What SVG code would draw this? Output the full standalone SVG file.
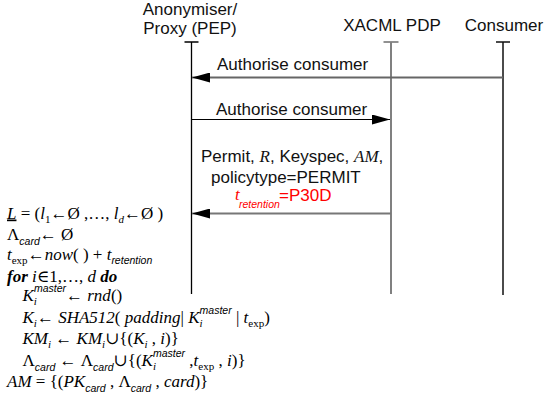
<svg xmlns="http://www.w3.org/2000/svg" width="546" height="396" viewBox="0 0 546 396">
  <style>
    .hdr { font-family: "Liberation Sans", Arial, sans-serif; font-size: 17px; fill: #111; }
    .lbl { font-family: "Liberation Sans", Arial, sans-serif; font-size: 17px; fill: #111; }
    .var { font-family: "Liberation Serif", "DejaVu Serif", serif; font-style: italic; }
    .life { fill: none; stroke-linecap: butt; }
    .m { font-family: "Liberation Serif", "DejaVu Serif", serif; font-size: 17px; font-style: italic; fill: #000; }
    .u { font-style: normal; }
    .b { font-weight: bold; }
    .s { font-family: "Liberation Sans", "DejaVu Sans", sans-serif; font-size: 10.5px; font-style: italic; }
    .n { font-size: 11px; }
    .red { fill: #f00; }
  </style>
  <defs>
    <marker id="head" markerUnits="userSpaceOnUse" markerWidth="18" markerHeight="10" refX="18" refY="5" orient="auto">
      <path d="M0,0 L18,5 L0,10 Z" fill="#000"/>
    </marker>
  </defs>

  <rect width="546" height="396" fill="#fff"/>

  <!-- participant: anonymiser / proxy -->
  <g id="pep">
    <text class="hdr" x="190" y="14.5" text-anchor="middle">Anonymiser/</text>
    <text class="hdr" x="190" y="33.5" text-anchor="middle">Proxy (PEP)</text>
    <path class="life" d="M184.5,42 H198.5 M191.5,42 V294" stroke="#000" stroke-width="1.3"/>
  </g>

  <!-- participant: policy decision point -->
  <g id="pdp">
    <text class="hdr" x="392" y="30.5" text-anchor="middle">XACML PDP</text>
    <path class="life" d="M383.5,42 H398.5" stroke="#555" stroke-width="1.3"/>
    <path class="life" d="M391,42 V294" stroke="#808080" stroke-width="2"/>
  </g>

  <!-- participant: consumer -->
  <g id="consumer">
    <text class="hdr" x="504" y="30.5" text-anchor="middle">Consumer</text>
    <path class="life" d="M496,42 H510 M503,42 V295" stroke="#111" stroke-width="1.5"/>
  </g>

  <!-- messages -->
  <g id="connectors">
    <line x1="503" y1="77.5" x2="192" y2="77.5" stroke="#666" stroke-width="2" marker-end="url(#head)"/>
    <line x1="191.5" y1="119.5" x2="390" y2="119.5" stroke="#000" stroke-width="1.2" marker-end="url(#head)"/>
    <line x1="391" y1="213.5" x2="192" y2="213.5" stroke="#777" stroke-width="2" marker-end="url(#head)"/>
  </g>

  <!-- message labels -->
  <g id="labels">
    <text class="lbl" x="217" y="69.5">Authorise consumer</text>
    <text class="lbl" x="216" y="115">Authorise consumer</text>
    <text class="lbl" x="201" y="162">Permit, <tspan class="var">R</tspan>, Keyspec, <tspan class="var">AM</tspan>,</text>
    <text class="lbl" x="211" y="182.5">policytype=PERMIT</text>
    <text class="m red" x="235" y="200" font-size="18">t</text>
    <text class="s red" x="239" y="207.5" font-size="10.3">retention</text>
    <text class="lbl red" x="279" y="201">=P30D</text>
  </g>

  <!-- anonymisation steps -->
  <g id="algorithm">
    <text class="m" x="7" y="218.5"><tspan text-decoration="underline">L</tspan><tspan class="u"> = (</tspan>l<tspan class="u n" dy="4">1</tspan><tspan class="u" dy="-4">←Ø ,…, </tspan>l<tspan class="n" dy="4">d</tspan><tspan class="u" dy="-4">←Ø )</tspan></text>
    <text class="m" x="7" y="240"><tspan class="u">Λ</tspan><tspan class="s" dy="5">card</tspan><tspan class="u" dy="-5">← Ø</tspan></text>
    <text class="m" x="7" y="260">t<tspan class="u n" dy="4">exp</tspan><tspan class="u" dy="-4">←</tspan>now<tspan class="u">( ) + </tspan>t<tspan class="s" dy="4">retention</tspan></text>
    <text class="m" x="7" y="281.5"><tspan class="b">for</tspan> i<tspan class="u">∈1,…, </tspan>d <tspan class="b">do</tspan></text>
    <text class="m" x="22.5" y="301">K<tspan class="n" dy="4">i</tspan><tspan class="s" dx="-3" dy="-13">master</tspan><tspan class="u" dy="9">← </tspan>rnd<tspan class="u">()</tspan></text>
    <text class="m" x="22.5" y="322.5">K<tspan class="n" dy="4">i</tspan><tspan class="u" dy="-4">← </tspan>SHA512<tspan class="u">( </tspan>padding<tspan class="u">| </tspan>K<tspan class="n" dy="4">i</tspan><tspan class="s" dx="-3" dy="-13">master</tspan><tspan class="u" dy="9"> | </tspan>t<tspan class="u n" dy="4">exp</tspan><tspan class="u" dy="-4">)</tspan></text>
    <text class="m" x="22.5" y="344">KM<tspan class="n" dy="4">i</tspan><tspan class="u" dy="-4"> ← </tspan>KM<tspan class="n" dy="4">i</tspan><tspan class="u" dy="-4">∪{(</tspan>K<tspan class="n" dy="4">i</tspan><tspan class="u" dy="-4"> , </tspan>i<tspan class="u">)}</tspan></text>
    <text class="m" x="22.5" y="365.5"><tspan class="u">Λ</tspan><tspan class="s" dy="5">card</tspan><tspan class="u" dy="-5"> ← Λ</tspan><tspan class="s" dy="5">card</tspan><tspan class="u" dy="-5">∪{(</tspan>K<tspan class="n" dy="4">i</tspan><tspan class="s" dx="-3" dy="-13">master</tspan><tspan class="u" dy="9"> ,</tspan>t<tspan class="u n" dy="4">exp</tspan><tspan class="u" dy="-4"> , </tspan>i<tspan class="u">)}</tspan></text>
    <text class="m" x="7" y="386.5">AM<tspan class="u"> = {(</tspan>PK<tspan class="s" dy="5">card</tspan><tspan class="u" dy="-5"> , Λ</tspan><tspan class="s" dy="5">card</tspan><tspan class="u" dy="-5"> , </tspan>card<tspan class="u">)}</tspan></text>
  </g>
</svg>
